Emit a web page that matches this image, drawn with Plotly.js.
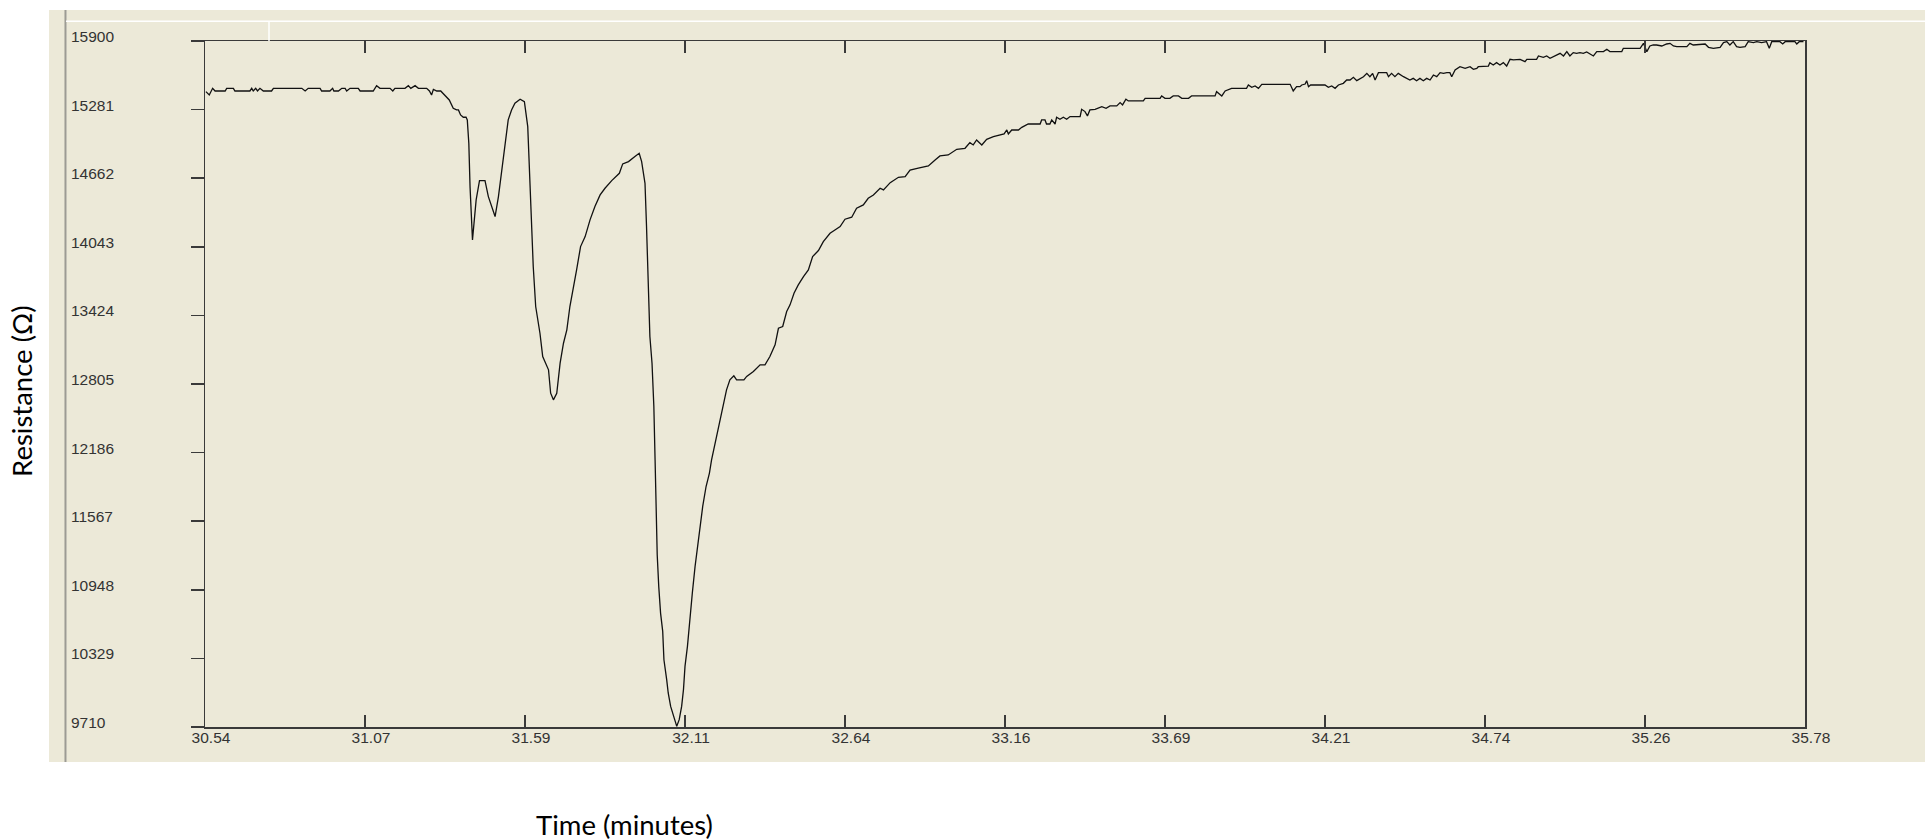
<!DOCTYPE html>
<html>
<head>
<meta charset="utf-8">
<script src="https://cdn.plot.ly/plotly-3.0.1.min.js"></script>
<style>
html,body{margin:0;padding:0;background:#ffffff;}
#chart{width:1925px;height:840px;}
</style>
</head>
<body>
<div id="chart"></div>
<script>
// ---- data ----
const xTickLabels = ["30.54","31.07","31.59","32.11","32.64","33.16","33.69","34.21","34.74","35.26","35.78"];
const yTickLabels = ["9710","10329","10948","11567","12186","12805","13424","14043","14662","15281","15900"];

const timeMin = [
  // baseline and first dips
  30.543,30.554,30.565,30.573,30.606,30.611,30.633,30.638,30.687,30.693,30.698,30.706,30.712,30.720,30.731,30.758,30.764,30.857,30.868,30.878,
  30.917,30.922,30.949,30.958,30.962,30.977,30.988,30.999,31.004,31.015,31.042,31.048,31.091,31.102,31.113,31.146,31.155,31.162,31.195,31.206,
  31.214,31.228,31.239,31.266,31.275,31.282,31.288,31.299,31.312,31.326,31.340,31.353,31.364,31.370,31.377,31.386,31.395,31.399,31.404,31.408,
  31.416,31.421,31.428,31.439,31.457,31.468,31.482,31.490,31.501,31.512,31.523,31.533,31.544,31.555,31.572,31.586,31.597,31.604,31.612,31.615,31.623,
  // second dip and peak
  31.637,31.646,31.665,31.672,31.681,31.692,31.703,31.714,31.725,31.735,31.746,31.757,31.770,31.785,31.801,31.817,31.834,31.850,31.872,31.897,
  31.908,31.927,31.948,31.962,31.970,31.981,31.986,31.992,31.997,32.004,32.010,
  // deep minimum
  32.014,32.017,32.021,32.026,32.032,32.039,32.043,32.052,32.057,32.065,32.074,32.085,32.093,32.101,32.107,32.112,32.120,32.128,32.136,32.145,
  32.153,32.161,32.170,32.181,32.192,32.199,
  // recovery
  32.237,32.248,32.259,32.272,32.281,32.305,32.314,32.336,32.358,32.374,32.390,32.407,32.418,32.432,32.445,32.456,32.469,32.483,32.500,32.516,
  32.530,32.549,32.565,32.587,32.603,32.620,32.636,32.658,32.674,32.696,32.712,32.729,32.751,32.762,32.784,32.811,32.833,32.849,32.876,32.909,
  32.931,32.947,32.974,33.002,33.029,33.045,33.056,33.067,33.084,33.100,33.122,
  33.144,33.157,33.166,33.171,33.182,33.204,33.215,33.236,33.275,33.280,33.291,33.296,33.307,33.313,33.324,33.329,33.340,33.351,33.362,33.373,
  33.406,33.411,33.422,33.430,33.438,33.449,33.455,33.477,33.491,33.504,33.526,33.537,33.545,33.556,33.564,33.613,33.619,33.668,33.673,33.684,
  33.700,33.711,33.728,33.739,33.761,33.771,33.848,33.853,33.864,33.870,33.881,33.902,33.951,33.957,33.968,33.979,33.990,34.001,34.094,34.104,
  34.115,34.126,34.132,34.143,34.148,34.154,34.161,34.175,34.208,34.219,34.230,34.241,34.252,34.268,34.279,34.290,34.301,34.312,34.323,34.334,
  34.345,34.355,34.364,34.372,34.383,34.410,34.416,34.426,34.437,34.448,
  34.465,34.486,34.497,34.508,34.519,34.530,34.541,34.552,34.563,34.574,34.585,34.596,34.607,34.617,34.623,34.634,34.650,34.667,34.683,34.694,
  34.705,34.710,34.743,34.748,34.759,34.770,34.781,34.792,34.803,34.814,34.825,34.847,34.863,34.869,34.901,34.907,34.923,34.934,34.945,34.956,
  34.978,34.989,35.000,35.010,35.021,35.032,35.043,35.054,35.065,35.087,35.098,35.120,35.131,35.141,35.152,35.180,35.185,35.240,35.251,35.262,
  35.272,35.283,35.294,35.311,35.327,35.338,35.349,35.360,35.393,35.403,35.414,35.453,35.464,35.480,35.502,35.513,35.524,35.534,35.545,35.556,
  35.567,35.584,35.594,35.611,35.622,35.638,35.654,35.663,35.671,35.698,35.707,35.715,35.747,35.753,35.761,35.775
];

const resistanceOhm = [
  15443,15413,15473,15449,15449,15473,15473,15449,15449,15473,15449,15473,15449,15473,15449,15449,15473,15473,15449,15473,
  15473,15449,15449,15473,15449,15449,15473,15473,15449,15473,15473,15449,15449,15497,15473,15473,15449,15473,15473,15497,
  15473,15497,15473,15473,15449,15413,15464,15449,15449,15413,15368,15293,15278,15278,15233,15212,15212,15188,14977,14586,
  14105,14256,14466,14640,14640,14496,14376,14316,14496,14737,15007,15188,15278,15338,15374,15353,15127,14646,14226,13865,13504,
  13263,13053,12933,12722,12662,12722,12993,13173,13294,13504,13654,13835,14045,14135,14286,14406,14511,14571,14640,14706,
  14791,14812,14857,14887,14812,14616,14225,13714,13233,12993,12602,
  12121,11745,11264,10979,10738,10573,10317,10137,10017,9896,9806,9716,9776,9896,10047,10257,10438,10708,10919,11159,
  11339,11520,11700,11880,12001,12121,
  12602,12752,12843,12879,12843,12843,12873,12918,12978,12978,13053,13158,13308,13324,13459,13519,13624,13699,13774,13835,
  13955,14009,14090,14165,14195,14225,14292,14310,14391,14421,14481,14511,14571,14556,14622,14670,14676,14736,14752,14773,
  14827,14863,14872,14923,14932,14983,14962,15007,14962,15013,15037,
  15052,15061,15097,15061,15097,15097,15121,15151,15151,15188,15188,15151,15151,15188,15151,15212,15194,15212,15194,15218,
  15218,15284,15263,15224,15278,15284,15284,15308,15293,15314,15314,15344,15323,15374,15359,15359,15383,15383,15404,15383,
  15383,15404,15404,15383,15383,15404,15404,15443,15413,15404,15449,15473,15473,15503,15482,15494,15473,15509,15509,15449,
  15488,15488,15503,15512,15542,15488,15503,15503,15503,15482,15494,15473,15503,15518,15548,15548,15572,15542,15563,15578,
  15608,15578,15608,15548,15614,15614,15578,15608,15578,15608,
  15578,15548,15563,15542,15563,15542,15563,15548,15593,15578,15614,15608,15614,15614,15578,15638,15668,15653,15668,15644,
  15653,15668,15674,15705,15684,15705,15684,15705,15674,15735,15729,15735,15714,15735,15735,15765,15753,15765,15744,15759,
  15789,15765,15804,15765,15795,15789,15795,15789,15801,15765,15804,15804,15825,15804,15804,15804,15834,15834,15879,15804,
  15855,15864,15864,15855,15873,15879,15855,15849,15849,15879,15864,15873,15843,15834,15843,15885,15894,15864,15894,15849,
  15843,15849,15894,15885,15894,15885,15894,15834,15894,15894,15873,15894,15894,15873,15894,15894
];

// ---- chart ----
const tickFont = {family: "'Liberation Sans', Arial, sans-serif", size: 15.5, color: "#333333"};
const titleFont = {family: "Lato, 'Open Sans', sans-serif", size: 27.5, color: "#000000"};

const xFirst = parseFloat(xTickLabels[0]);
const xLast = parseFloat(xTickLabels[xTickLabels.length - 1]);
const xTickVals = xTickLabels.map((t, i) => xFirst + i * (xLast - xFirst) / (xTickLabels.length - 1));
const yTickVals = yTickLabels.map(Number);

const annotations = yTickLabels.map((t, i) => ({
  xref: 'paper', yref: 'y', x: -0.0848, y: yTickVals[i], xanchor: 'left', yanchor: 'middle',
  yshift: 4.5, text: t, showarrow: false, font: tickFont
}));
annotations.push({
  xref: 'paper', yref: 'paper', x: 0.2619, y: -0.1414, xanchor: 'center', yanchor: 'middle',
  text: 'Time (minutes)', showarrow: false, font: titleFont
});
annotations.push({
  xref: 'paper', yref: 'paper', x: -0.1144, y: 0.4898, xanchor: 'center', yanchor: 'middle',
  text: 'Resistance (Ω)', textangle: -90, showarrow: false, font: titleFont
});

const shapes = [
  {type: 'rect', xref: 'paper', yref: 'paper', x0: -0.0975, x1: 1.08, y0: -0.05102, y1: 1.04519,
   fillcolor: '#ECE9D8', line: {width: 0}, layer: 'below'},
  {type: 'line', xref: 'paper', yref: 'paper', x0: -0.0872, x1: -0.0872, y0: -0.05102, y1: 1.04519,
   line: {color: '#9c9b94', width: 2}},
  {type: 'line', xref: 'paper', yref: 'paper', x0: -0.0869, x1: 1.08, y0: 1.0287, y1: 1.0287,
   line: {color: '#ffffff', width: 1.5}},
  {type: 'line', xref: 'paper', yref: 'paper', x0: 0.04, x1: 0.04, y0: 1.0287, y1: 1.0,
   line: {color: '#ffffff', width: 1.5}}
];

const trace = {
  x: timeMin, y: resistanceOhm, type: 'scatter', mode: 'lines',
  line: {color: '#111111', width: 1.3}, hoverinfo: 'x+y'
};

const layout = {
  width: 1925, height: 840, autosize: false,
  margin: {l: 205, r: 120, t: 41, b: 113, pad: 0},
  paper_bgcolor: '#ffffff', plot_bgcolor: '#ECE9D8',
  showlegend: false,
  xaxis: {
    range: [xFirst, xLast], tickmode: 'array', tickvals: xTickVals, ticktext: xTickLabels,
    ticks: 'inside', ticklen: 12, tickwidth: 1.5, tickcolor: '#3a3a3a',
    showline: true, linecolor: '#3a3a3a', linewidth: 1.5, mirror: 'ticks',
    showgrid: false, zeroline: false, tickfont: tickFont, ticklabelshift: 6, ticklabelstandoff: -4
  },
  yaxis: {
    range: [yTickVals[0], yTickVals[yTickVals.length - 1]], tickmode: 'array', tickvals: yTickVals,
    showticklabels: false,
    ticks: 'outside', ticklen: 13, tickwidth: 1.5, tickcolor: '#3a3a3a',
    showline: true, linecolor: '#3a3a3a', linewidth: 1.5, mirror: true,
    showgrid: false, zeroline: false
  },
  annotations: annotations,
  shapes: shapes
};

Plotly.newPlot('chart', [trace], layout, {displayModeBar: false, staticPlot: true});
</script>
</body>
</html>
